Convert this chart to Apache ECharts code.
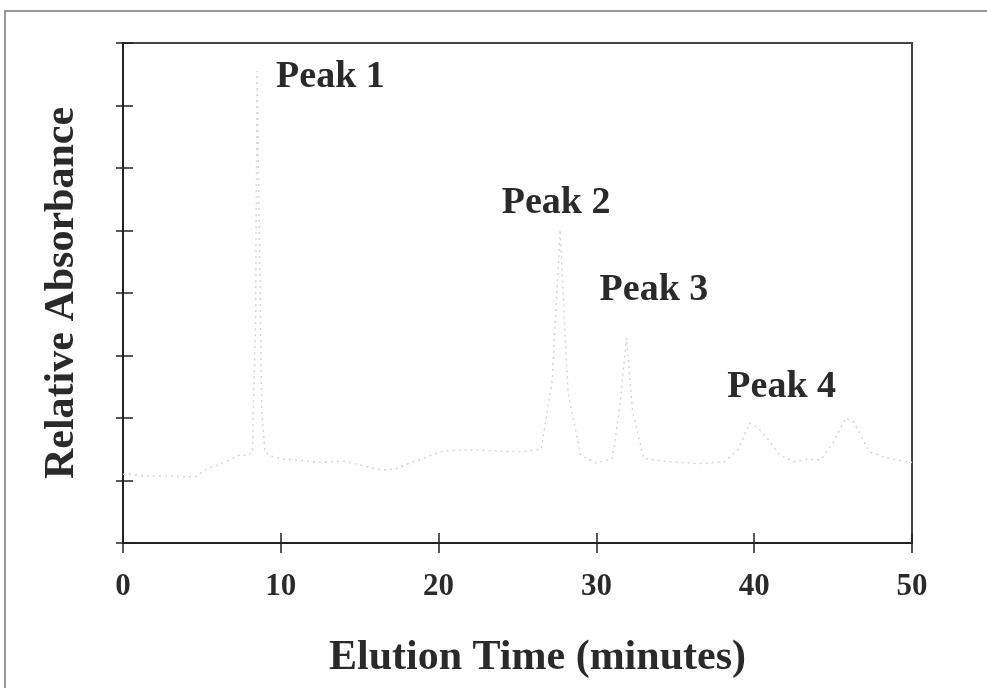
<!DOCTYPE html>
<html>
<head>
<meta charset="utf-8">
<script src="https://cdn.jsdelivr.net/npm/echarts@6/dist/echarts.min.js"></script>
<style>
  html, body { margin: 0; padding: 0; background: #fff; }
  #chart { width: 987px; height: 688px; }
</style>
</head>
<body>
<div id="chart"></div>
<script>
// Elution time (minutes) for each sampled point of the chromatogram trace
const elutionTimes = [0, 0.5, 1, 2, 3, 4, 4.6, 5.2, 6, 6.5, 7, 7.4, 7.9, 8.2, 8.4, 8.5, 8.6, 8.8, 9.0, 9.5,
  10, 11.2, 12.5, 14, 15, 16.3, 17.2, 18.2, 19.1, 20.1, 21.4, 22.5, 23.6, 25.2, 26.5, 27.2, 27.7, 28.2, 29,
  30, 31, 31.5, 31.9, 32.3, 33, 34.7, 36.5, 38.1, 39, 39.7, 40.2, 40.8, 41.6, 42.5, 43.4, 44.2, 45, 45.8,
  46.3, 46.8, 47.3, 48.4, 49.7, 50];
// Relative absorbance (in y-tick units) at each elution time
const absorbance = [1.10, 1.10, 1.08, 1.07, 1.07, 1.06, 1.06, 1.17, 1.25, 1.30, 1.36, 1.41, 1.40, 1.45, 3.5, 7.55, 5.6, 2.1, 1.45, 1.38,
  1.35, 1.32, 1.29, 1.31, 1.25, 1.17, 1.18, 1.28, 1.36, 1.46, 1.49, 1.49, 1.47, 1.46, 1.5, 2.6, 5.01, 2.4, 1.4,
  1.28, 1.35, 2.2, 3.28, 2.1, 1.35, 1.30, 1.27, 1.30, 1.5, 1.92, 1.85, 1.68, 1.41, 1.30, 1.34, 1.33, 1.6, 2.0,
  1.94, 1.7, 1.46, 1.36, 1.30, 1.29];

// Peak annotations: text, elution time and level of the label's left-middle anchor
const peakNames = ['Peak 1', 'Peak 2', 'Peak 3', 'Peak 4'];
const peakLabelTimes = [9.7, 24.0, 30.2, 38.3];
const peakLabelLevels = [7.46, 5.44, 4.05, 2.5];

// Axis settings
const xTicks = [0, 10, 20, 30, 40, 50];
const yMin = 0, yMax = 8;

const FONT = '"Liberation Serif", "Times New Roman", serif';
const INK = '#222';
const TEXT = '#2a2a2a';

const traceData = elutionTimes.map((t, i) => [t, absorbance[i]]);
const labelData = peakNames.map((n, i) => ({ value: [peakLabelTimes[i], peakLabelLevels[i]], name: n }));

const chart = echarts.init(document.getElementById('chart'), null, { renderer: 'canvas' });

const baseX = {
  type: 'value', min: xTicks[0], max: xTicks[xTicks.length - 1], interval: 10,
  splitLine: { show: false },
  axisLine: { show: true, onZero: false, lineStyle: { color: INK, width: 2 } }
};
const baseY = {
  type: 'value', min: yMin, max: yMax, interval: 1,
  splitLine: { show: false },
  axisLine: { show: true, onZero: false, lineStyle: { color: INK, width: 2 } }
};

chart.setOption({
  animation: false,
  backgroundColor: '#fff',
  grid: {
    left: 123, top: 43, right: 75, bottom: 145,
    show: true, borderColor: '#444', borderWidth: 2, backgroundColor: 'transparent'
  },
  graphic: [{
    type: 'rect', silent: true, z: -1,
    shape: { x: 5, y: 11, width: 1000, height: 700 },
    style: { fill: 'none', stroke: '#777', lineWidth: 1.5 }
  }],
  xAxis: [
    Object.assign({}, baseX, {
      position: 'bottom',
      axisTick: { show: true, inside: false, length: 10, lineStyle: { color: INK, width: 1.5 } },
      axisLabel: { show: true, margin: 28, color: TEXT, fontFamily: FONT, fontWeight: 'bold', fontSize: 31 },
      name: 'Elution Time (minutes)', nameLocation: 'middle', nameGap: 94,
      nameTextStyle: { color: TEXT, fontFamily: FONT, fontWeight: 'bold', fontSize: 42, padding: [0, 0, 0, 40] }
    }),
    Object.assign({}, baseX, {
      position: 'bottom',
      axisTick: { show: true, inside: true, length: 10, lineStyle: { color: INK, width: 1.5 } },
      axisLabel: { show: false }
    })
  ],
  yAxis: [
    Object.assign({}, baseY, {
      position: 'left',
      axisTick: { show: true, inside: false, length: 7, lineStyle: { color: INK, width: 1.5 } },
      axisLabel: { show: false },
      name: 'Relative Absorbance', nameLocation: 'middle', nameGap: 40,
      nameTextStyle: { color: TEXT, fontFamily: FONT, fontWeight: 'bold', fontSize: 42 }
    }),
    Object.assign({}, baseY, {
      position: 'left',
      axisTick: { show: true, inside: true, length: 10, lineStyle: { color: INK, width: 1.5 } },
      axisLabel: { show: false }
    })
  ],
  series: [
    {
      type: 'line', xAxisIndex: 0, yAxisIndex: 0,
      data: traceData, showSymbol: false, smooth: false,
      lineStyle: { color: '#d6d6d6', width: 1.5, type: [2, 4] }
    },
    {
      type: 'scatter', xAxisIndex: 0, yAxisIndex: 0,
      data: labelData, symbolSize: 0, silent: true,
      itemStyle: { opacity: 1 },
      label: {
        show: true, position: 'right', distance: 0,
        formatter: p => p.name,
        color: TEXT, fontFamily: FONT, fontWeight: 'bold', fontSize: 38
      }
    }
  ]
});
</script>
</body>
</html>
